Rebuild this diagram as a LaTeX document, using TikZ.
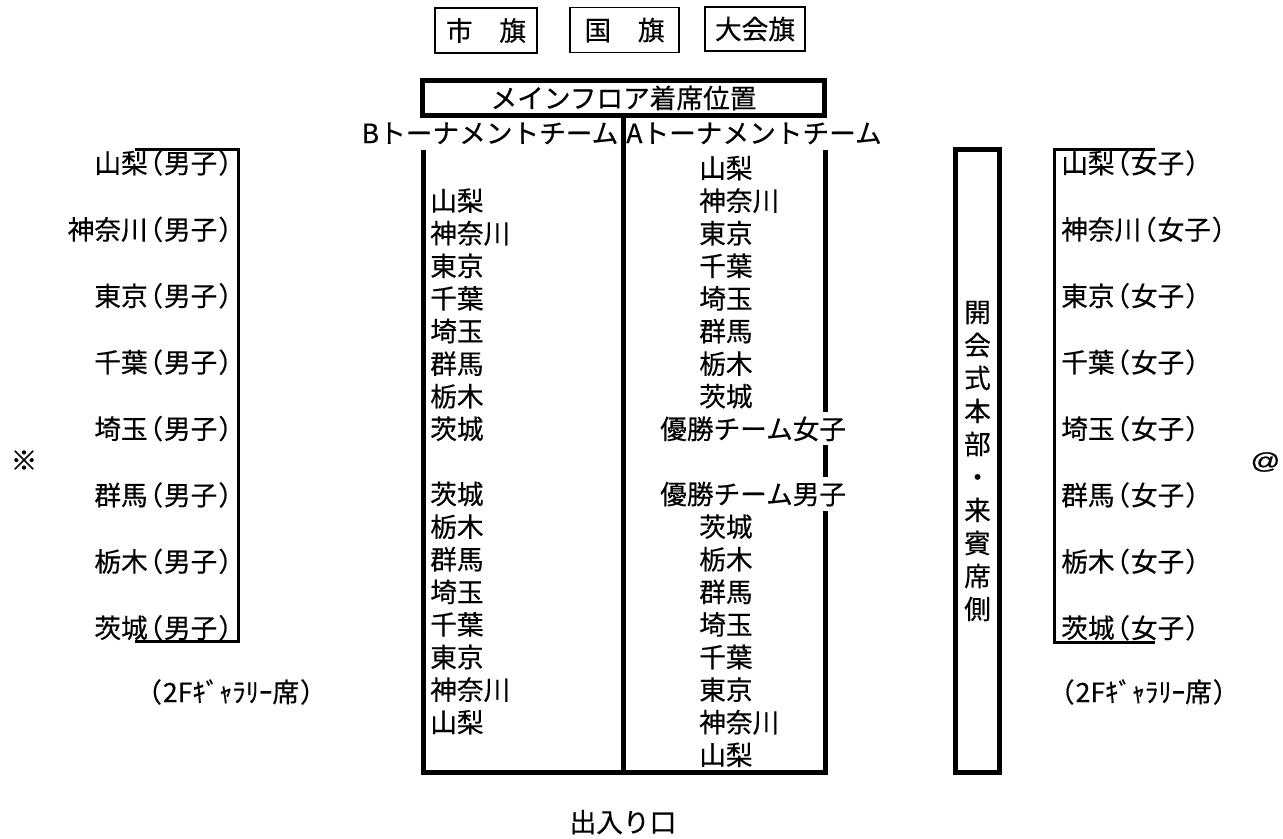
\documentclass[tikz,border=0pt]{standalone}
\usepackage{fontspec}
\setmainfont{Noto Sans CJK JP}[FakeBold=0.4]
\newfontfamily\hwfont{Noto Sans CJK JP}[RawFeature=+halt, FakeBold=0.4]
\newfontfamily\atfont{Liberation Sans}[FakeBold=0.6]
\newcommand\LP{\hspace{1.5pt}{\hwfont （}\hspace{0.75pt}}
\newcommand\RP{\hspace{0.75pt}{\hwfont ）}\hspace{1.5pt}}
\begin{document}
\begin{tikzpicture}[x=0.75pt,y=-0.75pt,
  txt/.style={inner sep=0pt, text height=17.6pt, text depth=2.4pt, font=\fontsize{20pt}{24pt}\selectfont},
  lt/.style={txt, anchor=west},
  rt/.style={txt, anchor=east},
  flag/.style={txt, draw, line width=1.1pt, anchor=center},
  thickline/.style={line width=3.75pt},
  bracket/.style={line width=2.25pt},
  winner/.style={lt, fill=white, inner ysep=2.5pt}]
\useasboundingbox (0,0) rectangle (1283,839);

% flags
\node[flag, minimum width=76.5pt, minimum height=33.75pt] (fcity) at (486,30.5) {市　旗};
\node[flag, minimum width=81.75pt, minimum height=33.75pt] (fnat) at (624.5,30) {国　旗};
\node[flag, minimum width=75pt, minimum height=33pt] (fmeet) at (755,29) {大会旗};

% main floor header
\node[txt, draw, line width=3.75pt, minimum width=301.5pt, minimum height=26.25pt] (main) at (623.5,98) {メインフロア着席位置};
\node[txt] (blabel) at (490,133) {Bトーナメントチーム};
\node[txt] (alabel) at (754,133) {Aトーナメントチーム};

% main frame
\draw[thickline] (423,150) -- (423,772) -- (825,772) -- (825,150);
\draw[thickline] (main.south) -- (main.south |- 0,772);

% B column
\foreach \t [count=\k from 1] in {山梨,神奈川,東京,千葉,埼玉,群馬,栃木,茨城}
  \node[lt] (b\k) at (430,{168+32.6*\k}) {\t};
\foreach \t [count=\k from 10] in {茨城,栃木,群馬,埼玉,千葉,東京,神奈川,山梨}
  \node[lt] (b\k) at (430,{168+32.6*\k}) {\t};

% A column
\foreach \t [count=\k from 0] in {山梨,神奈川,東京,千葉,埼玉,群馬,栃木,茨城}
  \node[lt] (a\k) at (699,{168+32.6*\k}) {\t};
\node[winner] (a8) at (660,{168+32.6*8}) {優勝チーム女子};
\node[winner] (a10) at (660,{168+32.6*10}) {優勝チーム男子};
\foreach \t [count=\k from 11] in {茨城,栃木,群馬,埼玉,千葉,東京,神奈川,山梨}
  \node[lt] (a\k) at (699,{168+32.6*\k}) {\t};

% men (left gallery)
\foreach \t [count=\j from 0] in {山梨,神奈川,東京,千葉,埼玉,群馬,栃木,茨城}
  \node[rt] (m\j) at (232,{163+66.4*\j}) {\t\LP 男子\RP};
\draw[bracket] (135,149) -- (238.5,149) -- (238.5,641) -- (135,641);
\node[txt] (galL) at (230,692) {\LP 2Fｷﾞｬﾗﾘｰ席\RP};

% women (right gallery)
\foreach \t [count=\j from 0] in {山梨,神奈川,東京,千葉,埼玉,群馬,栃木,茨城}
  \node[lt] (w\j) at (1061,{163+66.4*\j}) {\t\LP 女子\RP};
\draw[bracket] (1155,149) -- (1054,149) -- (1054,642) -- (1155,642);
\node[lt] (galR) at (1059,692) {\LP 2Fｷﾞｬﾗﾘｰ席\RP};

% headquarters
\node[draw, line width=3.75pt, minimum width=33pt, minimum height=467.25pt, inner sep=0pt, align=center, font=\fontsize{20pt}{24.75pt}\selectfont] (honbu) at (977.5,461) {開\\会\\式\\本\\部\\・\\来\\賓\\席\\側};

% marks
\node[txt] (kome) at (24,460) {※};
\node[inner sep=0pt, transform shape, xscale=1.3, font=\atfont\itshape\fontsize{17pt}{18pt}\selectfont] (at) at (1265,462) {@};
\node[txt] (exit) at (623,822) {出入り口};
\end{tikzpicture}
\end{document}
